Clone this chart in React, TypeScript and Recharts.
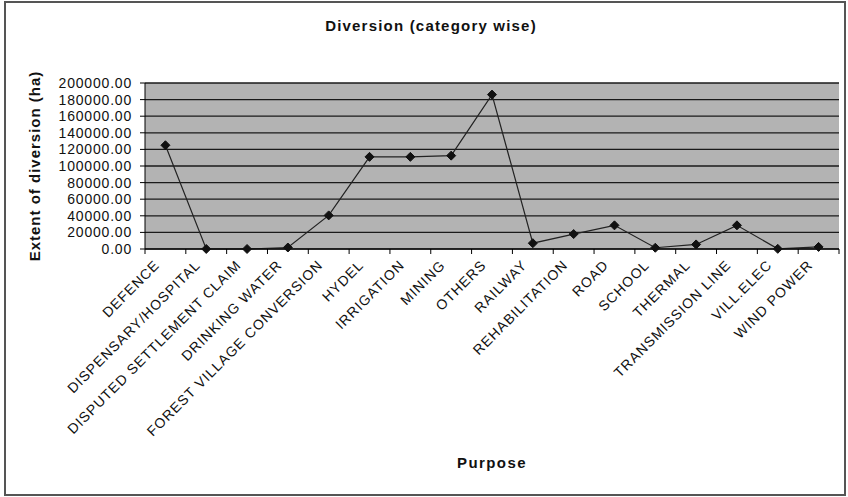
import { LineChart, Line, XAxis, YAxis, CartesianGrid } from "recharts";

const categories = [
  "DEFENCE",
  "DISPENSARY/HOSPITAL",
  "DISPUTED SETTLEMENT CLAIM",
  "DRINKING WATER",
  "FOREST VILLAGE CONVERSION",
  "HYDEL",
  "IRRIGATION",
  "MINING",
  "OTHERS",
  "RAILWAY",
  "REHABILITATION",
  "ROAD",
  "SCHOOL",
  "THERMAL",
  "TRANSMISSION LINE",
  "VILL.ELEC",
  "WIND POWER",
];

const extent = [
  125000, 50, 20, 1800, 40500, 111000, 111000, 112500, 186000, 7000, 18000,
  28500, 1500, 5500, 28500, 200, 2500,
];

const yTicks = [
  0, 20000, 40000, 60000, 80000, 100000, 120000, 140000, 160000, 180000, 200000,
];

const W = 848;
const H = 497;
const MARGIN = { top: 83, right: 9, left: 5, bottom: 48 };
const Y_AXIS_W = 140;
const X_AXIS_H = 200;
const PLOT_W = W - MARGIN.left - MARGIN.right - Y_AXIS_W;
const AXIS_Y = H - MARGIN.bottom - X_AXIS_H;
const BAND = PLOT_W / categories.length;
const FONT = "'Liberation Sans', Arial, sans-serif";

const chartData = categories.map((name, i) => ({ name, value: extent[i] }));

const Diamond = (props: any) => {
  const { cx, cy } = props;
  if (cx == null || cy == null) return null;
  const r = 4.5;
  return (
    <polygon
      points={`${cx},${cy - r} ${cx + r},${cy} ${cx},${cy + r} ${cx - r},${cy}`}
      fill="#111"
      stroke="#111"
    />
  );
};

// category labels sit at band centres, tick marks on the band edges (Excel style)
const XTick = (props: any) => {
  const { x, payload, index } = props;
  return (
    <g>
      <line x1={x - BAND / 2} x2={x - BAND / 2} y1={AXIS_Y} y2={AXIS_Y + 5} stroke="#000" />
      {index === categories.length - 1 && (
        <line x1={x + BAND / 2} x2={x + BAND / 2} y1={AXIS_Y} y2={AXIS_Y + 5} stroke="#000" />
      )}
      <text
        transform={`translate(${x - 5},${AXIS_Y + 17}) rotate(-45)`}
        textAnchor="end"
        fontSize={14}
        letterSpacing={1}
        fontFamily={FONT}
        fill="#111"
      >
        {payload.value}
      </text>
    </g>
  );
};

export default function App() {
  return (
    <div
      style={{
        position: "absolute",
        left: 0,
        top: 0,
        width: W,
        height: H,
        background: "#fff",
        fontFamily: FONT,
      }}
    >
      <div
        style={{
          position: "absolute",
          left: 4,
          top: 1,
          width: 842,
          height: 495,
          border: "2px solid #555",
          boxSizing: "border-box",
        }}
      />
      <LineChart width={W} height={H} data={chartData} margin={MARGIN}>
        <CartesianGrid vertical={false} stroke="#1a1a1a" strokeWidth={1.3} fill="#b3b3b3" />
        <XAxis
          dataKey="name"
          interval={0}
          height={X_AXIS_H}
          padding={{ left: BAND / 2, right: BAND / 2 }}
          tickLine={false}
          axisLine={{ stroke: "#000" }}
          tick={<XTick />}
        />
        <YAxis
          domain={[0, 200000]}
          ticks={yTicks}
          width={Y_AXIS_W}
          interval={0}
          tickSize={5}
          tickMargin={8}
          tickLine={{ stroke: "#000" }}
          axisLine={{ stroke: "#000" }}
          tickFormatter={(v: number) => v.toFixed(2)}
          tick={{ fontSize: 14, letterSpacing: 0.8, fill: "#111", fontFamily: FONT }}
        />
        <YAxis
          yAxisId="r"
          orientation="right"
          width={0}
          tick={false}
          tickLine={false}
          axisLine={{ stroke: "#888" }}
        />
        <Line
          dataKey="value"
          stroke="#222"
          strokeWidth={1.2}
          dot={<Diamond />}
          activeDot={false}
          isAnimationActive={false}
        />
      </LineChart>
      <div
        style={{
          position: "absolute",
          left: 281,
          top: 17,
          width: 300,
          textAlign: "center",
          fontWeight: "bold",
          fontSize: 15,
          letterSpacing: 1.2,
          color: "#111",
        }}
      >
        Diversion (category wise)
      </div>
      <div
        style={{
          position: "absolute",
          left: 342,
          top: 454,
          width: 300,
          textAlign: "center",
          fontWeight: "bold",
          fontSize: 15,
          letterSpacing: 1.4,
          color: "#111",
        }}
      >
        Purpose
      </div>
      <div
        style={{
          position: "absolute",
          left: 35 - 120,
          top: 166 - 10,
          width: 240,
          height: 20,
          lineHeight: "20px",
          textAlign: "center",
          fontWeight: "bold",
          fontSize: 15,
          letterSpacing: 1,
          color: "#111",
          transform: "rotate(-90deg)",
        }}
      >
        Extent of diversion (ha)
      </div>
    </div>
  );
}
